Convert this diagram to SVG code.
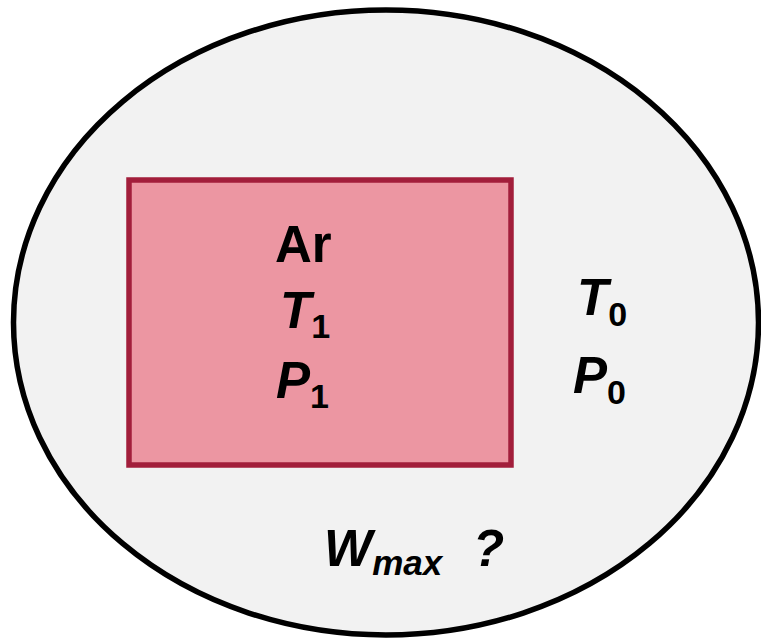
<svg xmlns="http://www.w3.org/2000/svg" width="761" height="639" viewBox="0 0 761 639">
<style>
.t{font-family:"Liberation Sans",Arial,sans-serif;font-weight:bold;fill:#000;font-size:51px}
.i{font-style:italic}
.s{font-size:34px;font-style:normal}
.sm{font-size:35px;font-style:italic}
</style>
<rect width="761" height="639" fill="#fff"/>
<g id="surroundings">
<ellipse cx="386" cy="322.5" rx="372.5" ry="312.5" fill="#F2F2F2" stroke="#000" stroke-width="5.5"/>
<text class="t i" x="577" y="315">T<tspan class="s" dy="11">0</tspan></text>
<text class="t i" x="573" y="393">P<tspan class="s" dy="11">0</tspan></text>
<text class="t i" x="324" y="566">W<tspan class="sm" dy="9">max</tspan></text>
<text class="t i" x="473" y="566">?</text>
</g>
<g id="system">
<rect x="129" y="180" width="382" height="285" fill="#EC96A2" stroke="#A21E3B" stroke-width="5.5"/>
<text class="t" x="275" y="262">Ar</text>
<text class="t i" x="280" y="328">T<tspan class="s" dy="10">1</tspan></text>
<text class="t i" x="276" y="398">P<tspan class="s" dy="10">1</tspan></text>
</g>
<g id="connectors"/>
</svg>
